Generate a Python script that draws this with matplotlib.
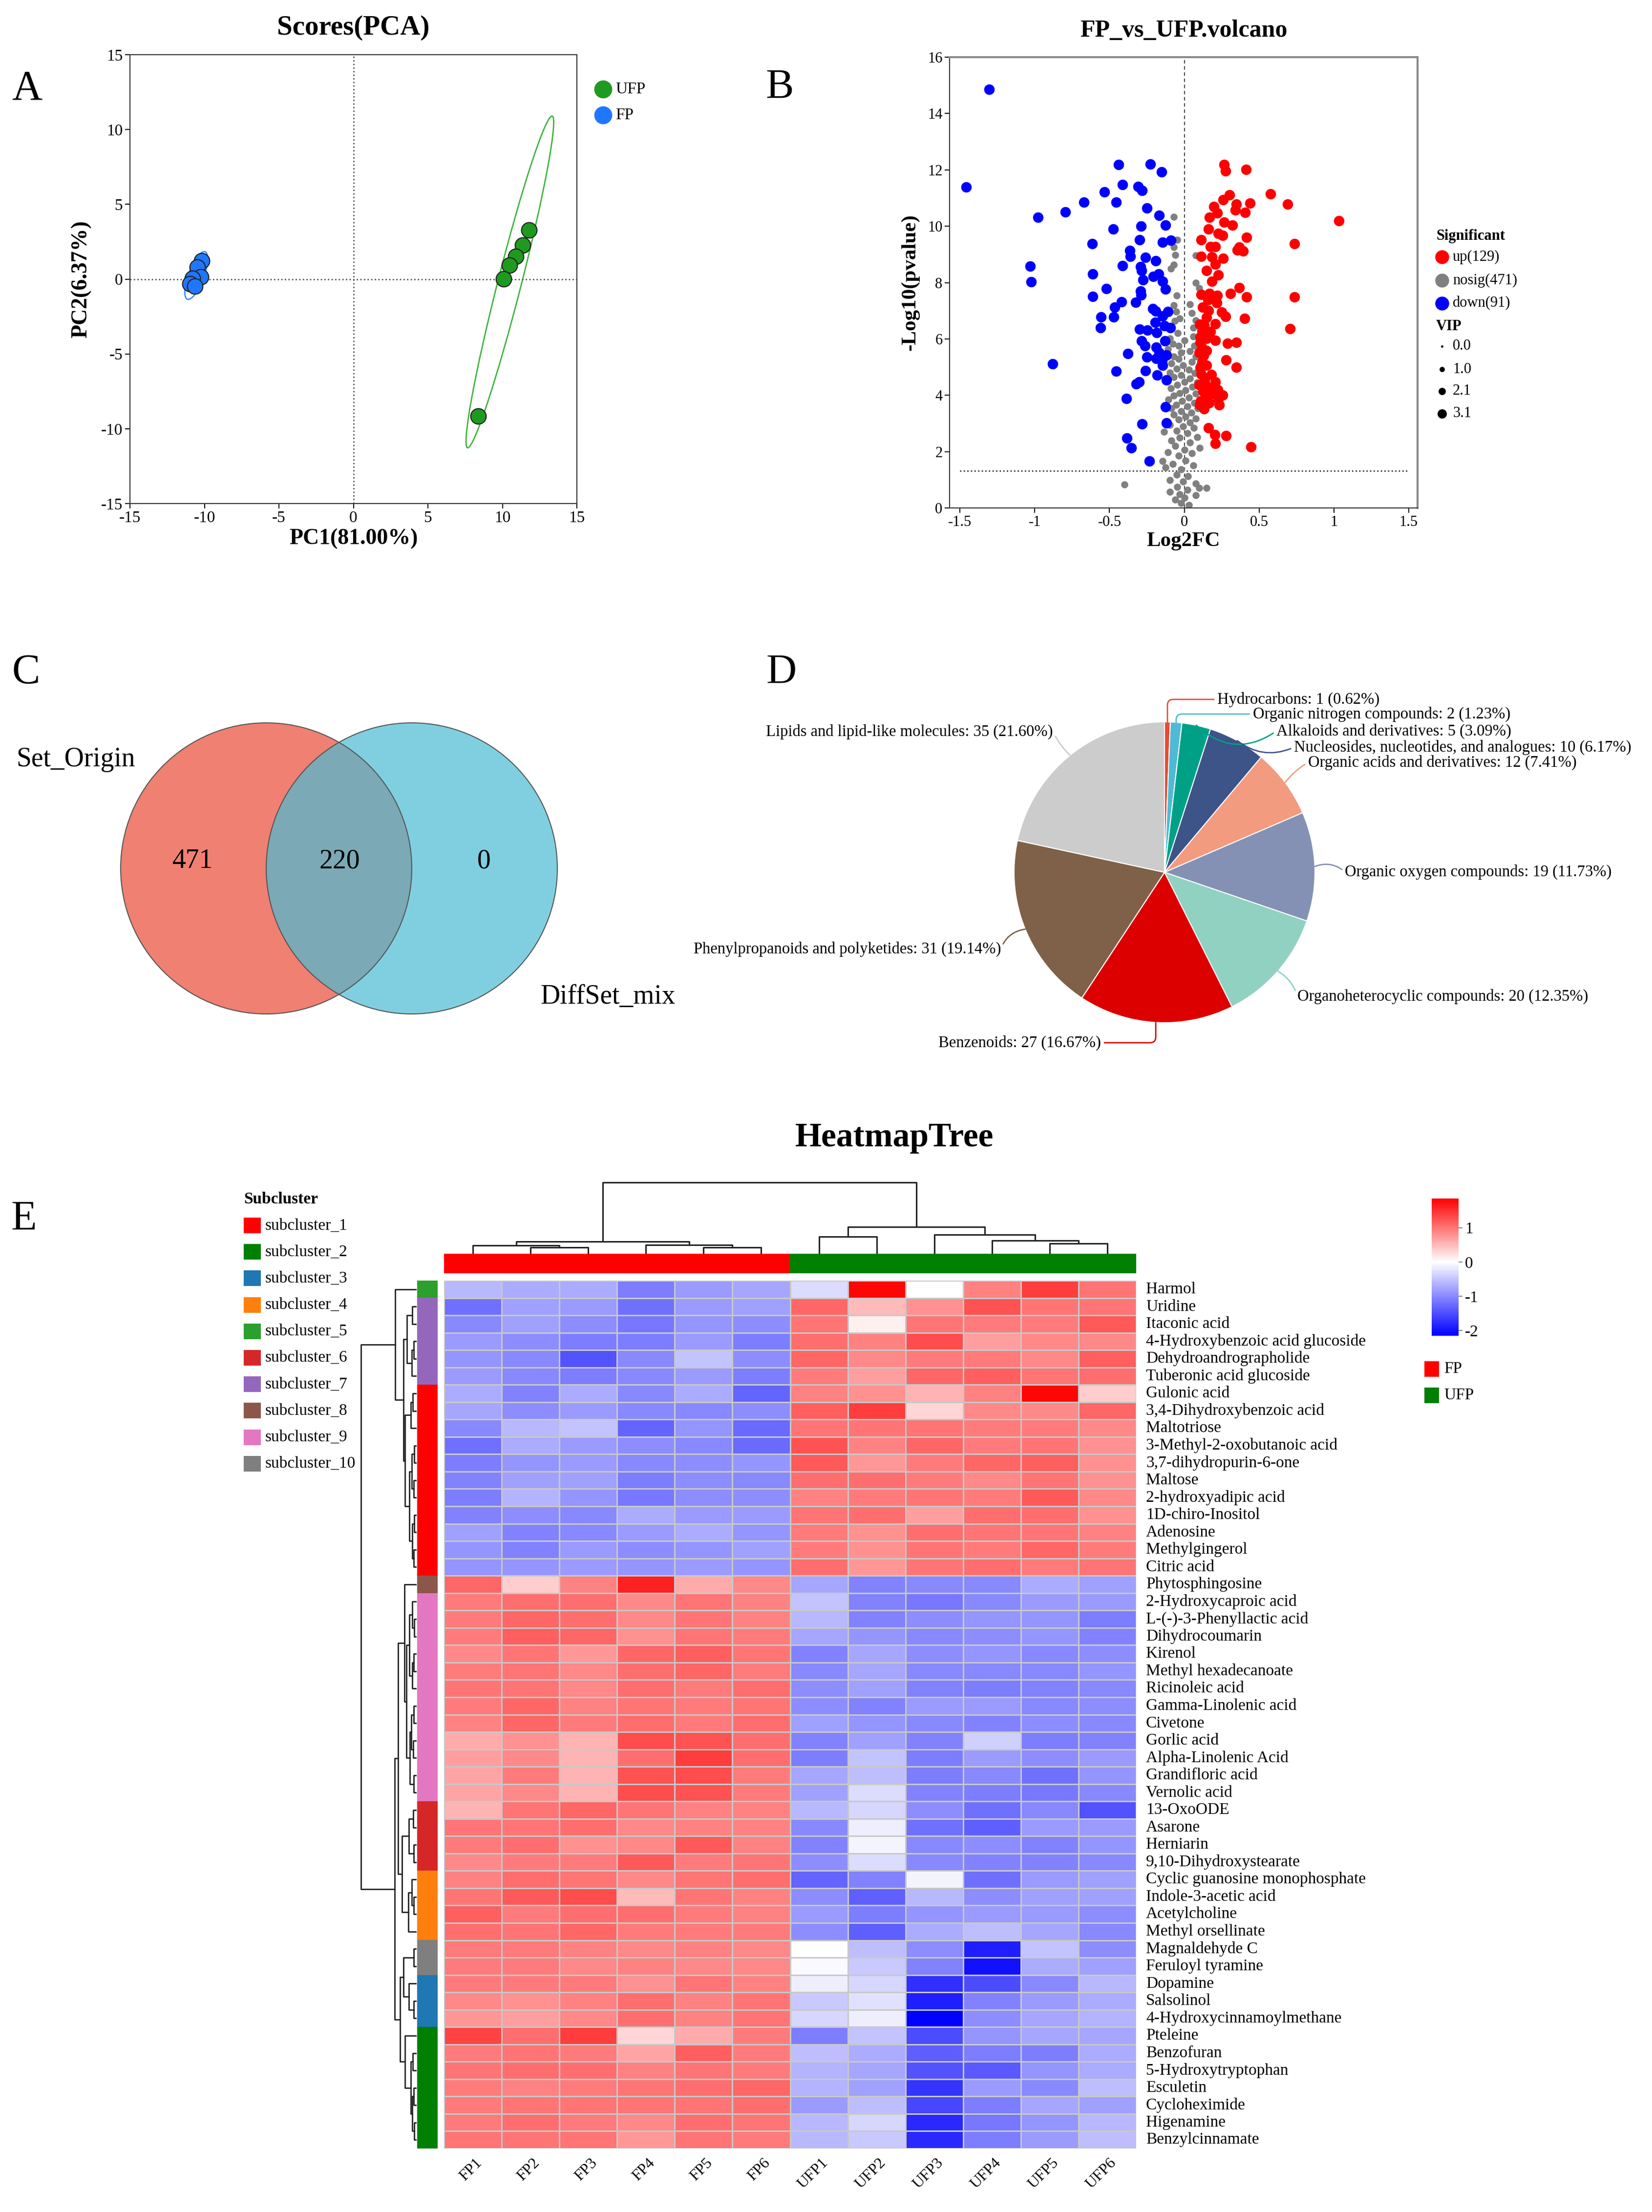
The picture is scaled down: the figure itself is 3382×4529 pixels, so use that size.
import numpy as np
import matplotlib
matplotlib.use('Agg')
import matplotlib.pyplot as plt
from matplotlib.patches import Circle, Ellipse, Rectangle
from matplotlib.colors import LinearSegmentedColormap, Normalize, to_rgb
from matplotlib.cm import ScalarMappable

plt.rcParams['font.family'] = 'serif'
plt.rcParams['font.serif'] = ['Liberation Serif', 'DejaVu Serif']
plt.rcParams['axes.unicode_minus'] = False

W, H = 3382, 4529

# ---------------- data ----------------
# A: PCA scores
fp_pc1 = [-10.17, -10.49, -10.23, -10.81, -10.96, -10.64]
fp_pc2 = [1.22, 0.81, 0.14, 0.05, -0.31, -0.46]
ufp_pc1 = [11.78, 11.37, 10.90, 10.49, 10.08, 8.38]
ufp_pc2 = [3.28, 2.28, 1.51, 0.93, 0.02, -9.15]

# B: volcano
down_x = [-1.306, -1.459, -0.439, -0.227, -0.153, -0.412, -0.31, -0.282, -0.533, -0.671,
          -0.455, -0.796, -0.98, -0.251, -0.169, -0.29, -0.125, -0.475, -0.09, -0.298,
          -0.145, -0.616, -0.365, -0.361, -0.259, -0.192, -1.031, -0.412, -0.294, -0.286,
          -0.173, -0.612, -0.208, -0.275, -0.145, -1.024, -0.522, -0.294, -0.125, -0.612,
          -0.29, -0.42, -0.325, -0.467, -0.212, -0.192, -0.11, -0.145, -0.557, -0.471,
          -0.196, -0.133, -0.561, -0.298, -0.247, -0.094, -0.184, -0.129, -0.286, -0.263,
          -0.188, -0.169, -0.376, -0.118, -0.251, -0.188, -0.149, -0.882, -0.145, -0.259,
          -0.455, -0.18, -0.118, -0.302, -0.322, -0.388, -0.125, -0.118, -0.282, -0.384,
          -0.353, -0.235]
down_y = [14.86, 11.39, 12.19, 12.2, 11.92, 11.48, 11.4, 11.26, 11.21, 10.85,
          10.85, 10.51, 10.32, 10.65, 10.39, 10.0, 10.04, 9.9, 9.5, 9.52,
          9.43, 9.38, 9.13, 8.93, 8.89, 8.78, 8.58, 8.59, 8.56, 8.42,
          8.31, 8.31, 8.22, 8.10, 8.05, 8.03, 7.79, 7.70, 7.76, 7.51,
          7.56, 7.32, 7.29, 7.12, 7.07, 6.98, 6.96, 6.81, 6.77, 6.77,
          6.59, 6.46, 6.4, 6.34, 6.31, 6.39, 6.23, 5.93, 5.93, 5.75,
          5.71, 5.51, 5.47, 5.42, 5.36, 5.31, 5.23, 5.11, 5.06, 4.87,
          4.86, 4.72, 4.55, 4.48, 4.41, 3.89, 3.58, 3.02, 2.99, 2.48,
          2.14, 1.67]
up_x = [0.267, 0.275, 0.412, 0.576, 0.69, 1.035, 0.302, 0.259, 0.349, 0.439,
        0.196, 0.341, 0.22, 0.408, 0.169, 0.267, 0.322, 0.161, 0.227, 0.255,
        0.416, 0.114, 0.737, 0.176, 0.208, 0.369, 0.353, 0.392, 0.114, 0.184,
        0.259, 0.208, 0.149, 0.227, 0.184, 0.369, 0.114, 0.169, 0.22, 0.31,
        0.416, 0.737, 0.157, 0.216, 0.122, 0.161, 0.251, 0.275, 0.149, 0.404,
        0.102, 0.133, 0.208, 0.706, 0.118, 0.176, 0.106, 0.149, 0.208, 0.106,
        0.29, 0.349, 0.118, 0.149, 0.098, 0.129, 0.278, 0.118, 0.149, 0.106,
        0.349, 0.114, 0.18, 0.137, 0.208, 0.098, 0.157, 0.224, 0.125, 0.184,
        0.255, 0.153, 0.227, 0.11, 0.165, 0.235, 0.102, 0.133, 0.161, 0.204,
        0.278, 0.208, 0.447]
up_y = [12.19, 11.96, 12.01, 11.14, 10.79, 10.19, 11.11, 10.94, 10.79, 10.81,
        10.69, 10.57, 10.47, 10.48, 10.32, 10.14, 10.04, 9.9, 9.75, 9.68,
        9.61, 9.52, 9.38, 9.27, 9.27, 9.26, 9.15, 9.11, 8.92, 8.91,
        8.85, 8.65, 8.42, 8.27, 8.04, 7.82, 7.58, 7.61, 7.54, 7.61,
        7.48, 7.48, 7.38, 7.28, 7.12, 7.0, 6.95, 6.79, 6.76, 6.72,
        6.51, 6.49, 6.53, 6.36, 6.27, 6.26, 6.06, 6.01, 5.95, 5.88,
        5.85, 5.88, 5.69, 5.59, 5.51, 5.41, 5.25, 5.19, 5.06, 4.97,
        4.99, 4.75, 4.73, 4.53, 4.48, 4.36, 4.29, 4.2, 4.15, 4.05,
        4.01, 3.97, 3.87, 3.80, 3.73, 3.65, 3.65, 3.52, 2.85, 2.6,
        2.57, 2.29, 2.16]
ns_x = [-0.071, -0.047, -0.071, -0.059, 0.078, -0.09, -0.071, 0.078, 0.098, -0.051,
        0.039, -0.071, -0.055, 0.051, -0.031, -0.063, 0.078, 0.059, -0.043, -0.098,
        0.0, 0.059, -0.078, -0.039, 0.067, -0.11, 0.039, -0.02, -0.071, 0.078,
        -0.039, 0.051, -0.086, -0.008, 0.098, -0.051, 0.031, -0.098, 0.071, -0.02,
        -0.071, 0.039, -0.118, 0.0, 0.086, -0.047, 0.055, -0.09, 0.008, -0.031,
        0.078, -0.071, 0.031, -0.106, -0.016, 0.067, -0.055, 0.02, -0.086, 0.09,
        -0.02, 0.047, -0.071, 0.008, 0.078, -0.039, 0.039, -0.098, -0.008, 0.063,
        -0.137, -0.051, 0.02, 0.086, -0.031, -0.086, 0.039, 0.102, -0.059, 0.0,
        -0.11, 0.051, -0.039, -0.145, 0.008, -0.078, 0.059, -0.125, -0.02, -0.051,
        0.024, -0.098, -0.008, 0.078, -0.4, -0.047, 0.149, 0.098, 0.02, -0.098,
        -0.031, 0.078, 0.0, -0.059, -0.02, 0.031]
ns_y = [10.34, 9.52, 9.26, 8.98, 8.96, 8.5, 8.63, 7.99, 7.8, 7.54,
        7.23, 7.19, 6.97, 6.91, 6.72, 6.64, 6.65, 6.4, 6.21, 6.02,
        5.95, 6.08, 5.83, 5.76, 5.76, 5.64, 5.57, 5.51, 5.38, 5.38,
        5.28, 5.19, 5.13, 5.06, 5.06, 4.94, 4.91, 4.81, 4.78, 4.71,
        4.64, 4.59, 4.52, 4.48, 4.45, 4.36, 4.3, 4.24, 4.17, 4.07,
        4.05, 3.98, 3.92, 3.85, 3.79, 3.73, 3.66, 3.6, 3.54, 3.54,
        3.43, 3.38, 3.31, 3.24, 3.18, 3.13, 3.03, 2.95, 2.9, 2.84,
        2.71, 2.74, 2.65, 2.52, 2.49, 2.39, 2.33, 2.14, 2.2, 2.07,
        1.98, 1.95, 1.86, 1.67, 1.69, 1.56, 1.5, 1.44, 1.37, 1.18,
        1.12, 0.99, 0.93, 0.87, 0.83, 0.74, 0.71, 0.71, 0.64, 0.57,
        0.48, 0.45, 0.36, 0.29, 0.17, 0.1]
p_cut = 1.31
sig_labels = ['up(129)', 'nosig(471)', 'down(91)']
vip_labels = ['0.0', '1.0', '2.1', '3.1']

# C: venn
venn_sets = ['Set_Origin', 'DiffSet_mix']
venn_counts = [471, 220, 0]

# D: pie of classes
pie_names = ['Hydrocarbons', 'Organic nitrogen compounds', 'Alkaloids and derivatives',
             'Nucleosides, nucleotides, and analogues', 'Organic acids and derivatives',
             'Organic oxygen compounds', 'Organoheterocyclic compounds', 'Benzenoids',
             'Phenylpropanoids and polyketides', 'Lipids and lipid-like molecules']
pie_counts = [1, 2, 5, 10, 12, 19, 20, 27, 31, 35]
pie_colors = ['#E64B35', '#4DBBD5', '#00A087', '#3C5488', '#F39B7F',
              '#8491B4', '#91D1C2', '#DC0000', '#7E6148', '#CCCCCC']

# E: heatmap
samples = ['FP1', 'FP2', 'FP3', 'FP4', 'FP5', 'FP6',
           'UFP1', 'UFP2', 'UFP3', 'UFP4', 'UFP5', 'UFP6']
metabolites = ['Harmol', 'Uridine', 'Itaconic acid', '4-Hydroxybenzoic acid glucoside',
               'Dehydroandrographolide', 'Tuberonic acid glucoside', 'Gulonic acid',
               '3,4-Dihydroxybenzoic acid', 'Maltotriose', '3-Methyl-2-oxobutanoic acid',
               '3,7-dihydropurin-6-one', 'Maltose', '2-hydroxyadipic acid', '1D-chiro-Inositol',
               'Adenosine', 'Methylgingerol', 'Citric acid', 'Phytosphingosine',
               '2-Hydroxycaproic acid', 'L-(-)-3-Phenyllactic acid', 'Dihydrocoumarin', 'Kirenol',
               'Methyl hexadecanoate', 'Ricinoleic acid', 'Gamma-Linolenic acid', 'Civetone',
               'Gorlic acid', 'Alpha-Linolenic Acid', 'Grandifloric acid', 'Vernolic acid',
               '13-OxoODE', 'Asarone', 'Herniarin', '9,10-Dihydroxystearate',
               'Cyclic guanosine monophosphate', 'Indole-3-acetic acid', 'Acetylcholine',
               'Methyl orsellinate', 'Magnaldehyde C', 'Feruloyl tyramine', 'Dopamine',
               'Salsolinol', '4-Hydroxycinnamoylmethane', 'Pteleine', 'Benzofuran',
               '5-Hydroxytryptophan', 'Esculetin', 'Cycloheximide', 'Higenamine', 'Benzylcinnamate']
hm_values = [
    [-0.6, -0.7, -0.7, -1.1, -0.85, -0.75, -0.3, 1.8, 0.0, 0.9, 1.4, 1.0],
    [-1.2, -0.8, -0.85, -1.2, -0.85, -0.8, 1.1, 0.5, 0.8, 1.25, 1.0, 1.0],
    [-1.0, -0.8, -0.95, -1.15, -0.9, -0.95, 1.0, 0.1, 1.0, 0.95, 0.95, 1.2],
    [-0.85, -0.95, -1.1, -1.1, -0.85, -1.1, 1.05, 0.9, 1.3, 0.7, 0.85, 0.85],
    [-0.9, -1.0, -1.45, -1.0, -0.5, -0.95, 1.1, 0.85, 0.95, 0.95, 0.85, 1.15],
    [-0.85, -1.0, -1.1, -1.0, -0.85, -1.1, 0.95, 0.7, 1.1, 1.15, 1.0, 1.05],
    [-0.7, -1.05, -0.7, -1.0, -0.7, -1.3, 0.9, 0.8, 0.55, 0.9, 1.8, 0.35],
    [-0.75, -0.95, -0.85, -1.0, -1.0, -0.95, 1.15, 1.4, 0.3, 0.85, 0.85, 1.1],
    [-1.0, -0.6, -0.5, -1.3, -0.9, -1.25, 1.0, 1.0, 1.0, 0.95, 0.95, 0.85],
    [-1.2, -0.7, -0.85, -0.95, -1.0, -1.25, 1.25, 0.9, 1.1, 0.95, 1.0, 0.8],
    [-1.1, -0.9, -0.85, -1.0, -0.95, -0.9, 1.2, 0.75, 0.95, 1.1, 1.15, 0.8],
    [-1.05, -0.8, -0.8, -1.1, -0.95, -1.0, 1.05, 1.05, 0.95, 0.85, 1.0, 0.8],
    [-1.1, -0.65, -0.9, -1.15, -0.95, -0.95, 0.9, 0.95, 1.0, 0.95, 1.2, 0.85],
    [-1.05, -0.95, -1.0, -0.7, -0.85, -0.85, 1.0, 1.05, 0.7, 1.05, 1.05, 0.8],
    [-0.8, -1.05, -1.0, -0.85, -0.7, -0.9, 0.95, 0.8, 1.05, 1.0, 1.0, 0.9],
    [-0.9, -1.05, -0.85, -0.95, -0.9, -0.8, 0.95, 0.8, 1.0, 0.95, 1.1, 0.95],
    [-0.9, -0.9, -0.85, -0.9, -0.85, -0.9, 1.05, 0.75, 1.0, 1.05, 0.95, 1.0],
    [1.1, 0.35, 0.9, 1.6, 0.6, 0.85, -0.75, -1.05, -1.0, -1.0, -0.7, -0.8],
    [0.95, 1.05, 1.05, 0.85, 1.0, 0.9, -0.5, -1.05, -1.15, -1.0, -0.85, -0.85],
    [0.95, 1.1, 1.05, 0.85, 1.0, 0.9, -0.6, -1.05, -0.95, -0.9, -0.9, -1.1],
    [0.95, 1.15, 1.1, 0.8, 1.0, 0.95, -0.75, -0.9, -1.0, -0.95, -0.9, -1.05],
    [0.85, 1.0, 0.75, 1.1, 1.15, 1.0, -1.05, -0.75, -0.95, -0.9, -1.0, -0.95],
    [0.95, 1.0, 0.85, 1.05, 1.1, 0.95, -1.0, -0.75, -1.0, -1.0, -1.0, -0.9],
    [1.0, 1.0, 0.85, 1.05, 0.95, 1.05, -0.95, -0.8, -1.05, -1.1, -1.05, -1.0],
    [0.95, 1.1, 0.9, 1.0, 0.95, 1.0, -0.95, -1.05, -0.85, -0.85, -1.0, -0.95],
    [0.9, 1.1, 0.95, 1.05, 0.95, 1.05, -0.8, -0.9, -1.0, -1.05, -0.95, -1.0],
    [0.6, 0.8, 0.55, 1.3, 1.25, 1.05, -1.05, -0.8, -1.05, -0.4, -1.1, -1.05],
    [0.7, 0.85, 0.55, 1.05, 1.4, 1.05, -1.1, -0.5, -1.1, -0.85, -0.95, -0.85],
    [0.65, 0.95, 0.55, 1.25, 1.3, 0.95, -0.75, -0.55, -1.1, -1.0, -1.2, -0.9],
    [0.65, 0.85, 0.55, 1.3, 1.25, 0.95, -0.8, -0.3, -1.05, -1.1, -1.15, -1.0],
    [0.55, 1.0, 1.1, 1.0, 0.9, 0.9, -0.6, -0.35, -0.95, -1.2, -1.0, -1.45],
    [1.0, 1.0, 1.05, 0.85, 0.9, 0.9, -1.0, -0.15, -1.2, -1.35, -0.85, -0.85],
    [0.95, 1.05, 0.8, 0.85, 1.2, 0.9, -1.05, -0.1, -1.0, -0.95, -1.05, -0.9],
    [0.85, 0.95, 0.95, 1.2, 0.95, 1.0, -0.95, -0.3, -1.0, -1.05, -1.05, -1.0],
    [0.9, 1.05, 1.0, 0.85, 1.0, 1.05, -1.3, -1.05, -0.1, -1.2, -0.85, -0.8],
    [1.0, 1.2, 1.3, 0.5, 1.0, 0.9, -0.95, -1.35, -0.6, -0.95, -0.8, -0.8],
    [1.15, 0.95, 1.05, 1.05, 0.95, 0.9, -0.85, -1.1, -0.9, -0.85, -0.85, -0.95],
    [1.05, 1.0, 1.1, 0.95, 0.95, 0.95, -0.95, -1.35, -0.7, -0.55, -0.75, -1.0],
    [0.95, 0.95, 0.9, 0.85, 0.9, 0.85, 0.0, -0.55, -0.95, -1.9, -0.5, -0.95],
    [0.95, 0.95, 0.85, 0.9, 0.85, 0.85, -0.05, -0.45, -1.05, -2.0, -0.7, -0.8],
    [0.95, 0.95, 0.95, 0.8, 1.0, 0.9, -0.15, -0.35, -1.75, -1.5, -1.0, -0.6],
    [0.85, 0.8, 0.9, 1.05, 0.9, 1.0, -0.45, -0.25, -1.9, -1.05, -0.85, -0.7],
    [0.75, 0.7, 0.85, 1.05, 0.9, 1.0, -0.35, -0.15, -2.15, -0.95, -0.75, -0.65],
    [1.35, 1.05, 1.4, 0.3, 0.6, 0.95, -1.1, -0.5, -1.5, -0.9, -0.75, -0.75],
    [0.95, 1.0, 0.95, 0.65, 1.15, 0.95, -0.55, -0.7, -1.35, -1.1, -1.1, -0.7],
    [1.0, 1.05, 1.05, 0.9, 1.0, 0.95, -0.65, -0.75, -1.45, -1.4, -0.9, -0.7],
    [0.95, 0.9, 0.95, 1.0, 1.05, 1.1, -0.65, -0.8, -1.7, -0.85, -1.0, -0.55],
    [0.95, 1.0, 1.0, 1.0, 1.0, 1.05, -0.85, -0.55, -1.55, -1.1, -0.75, -0.8],
    [0.95, 1.05, 0.95, 0.85, 1.05, 1.0, -0.6, -0.35, -1.8, -1.15, -0.9, -0.6],
    [1.0, 1.0, 1.0, 0.75, 1.0, 0.95, -0.6, -0.45, -1.8, -1.1, -0.85, -0.55],
]
subcluster_names = ['subcluster_%d' % i for i in range(1, 11)]
subcluster_colors = ['#FF0000', '#008000', '#1F77B4', '#FF7F0E', '#2CA02C',
                     '#D62728', '#9467BD', '#8C564B', '#E377C2', '#7F7F7F']
# subcluster of consecutive row blocks (top to bottom) and their sizes
row_blocks = [5, 7, 1, 8, 9, 6, 4, 10, 3, 2]
row_block_sizes = [1, 5, 11, 1, 12, 4, 4, 2, 3, 7]
group_names = ['FP', 'UFP']
group_colors = ['#FF0000', '#008000']

# dendrograms: (left, right, height) ; leaves are row/column indices
col_tree = (((0, (1, 2, 13), 17), (3, (4, 5, 13), 18), 25),
            ((6, 7, 35), (8, (9, (10, 11, 21), 27), 39), 55), 146)
pink = (((18, (19, 20, 5), 9), ((21, 22, 6), 23, 9), 15),
        (((24, 25, 6), (26, 27, 7), 11), (28, 29, 6), 14), 21)
row_tree = (
    (0, (((1, 2, 9), ((3, 4, 6), 5, 10), 20),
         (((6, 7, 8), 8, 12), (((9, 10, 5), (11, 12, 6), 10), ((13, 14, 5), (15, 16, 6), 9), 15), 24),
         27), 44),
    (((17, pink, 25), (((30, 31, 7), (32, 33, 6), 16), ((34, (35, 36, 6), 10), 37, 17), 30), 38),
     (((38, 39, 6), (40, (41, 42, 6), 16), 27),
      (43, ((44, 45, 8), ((46, 47, 6), (48, 49, 5), 9), 12), 24), 34), 45),
    114)


def box(x0, y0, x1, y1):
    return [x0 / W, 1 - y1 / H, (x1 - x0) / W, (y1 - y0) / H]


fig = plt.figure(figsize=(W / 100, H / 100), dpi=100)
ov = fig.add_axes([0, 0, 1, 1])
ov.set_xlim(0, W)
ov.set_ylim(H, 0)
ov.axis('off')

for letter, (lx, ly) in zip('ABCDE', [(55, 183), (1596, 180), (53, 1378), (1600, 1378), (49, 2497)]):
    ov.text(lx, ly, letter, fontsize=62, ha='center', va='center')

# ---------------- A: PCA ----------------
axA = fig.add_axes(box(266, 112, 1181, 1031))


def conf_ellipse(ax, x, y, color):
    cov = np.cov(x, y)
    vals, vecs = np.linalg.eigh(cov)
    order = vals.argsort()[::-1]
    vals, vecs = vals[order], vecs[:, order]
    angle = np.degrees(np.arctan2(vecs[1, 0], vecs[0, 0]))
    w, h = 2 * np.sqrt(5.991 * vals)
    ax.add_patch(Ellipse((np.mean(x), np.mean(y)), w, h, angle=angle,
                         fill=False, ec=color, lw=2))


axA.axvline(0, color='#555555', ls=':', lw=2)
axA.axhline(0, color='#555555', ls=':', lw=2)
conf_ellipse(axA, ufp_pc1, ufp_pc2, '#3CB43C')
conf_ellipse(axA, fp_pc1, fp_pc2, '#3C8CFF')
axA.scatter(ufp_pc1, ufp_pc2, s=520, c='#1E9B1E', edgecolors='#222222', linewidths=1.6, zorder=3)
axA.scatter(fp_pc1, fp_pc2, s=520, c='#1F77FF', edgecolors='#222222', linewidths=1.6, zorder=3)
axA.set_xlim(-15, 15)
axA.set_ylim(-15, 15)
axA.set_xticks(range(-15, 16, 5))
axA.set_yticks(range(-15, 16, 5))
axA.tick_params(labelsize=24, length=7, width=1.5, direction='out')
for sp in axA.spines.values():
    sp.set_linewidth(1.5)
    sp.set_color('#333333')
axA.set_title('Scores(PCA)', fontsize=41, fontweight='bold', pad=30)
axA.set_xlabel('PC1(81.00%)', fontsize=33, fontweight='bold', labelpad=4)
axA.set_ylabel('PC2(6.37%)', fontsize=33, fontweight='bold', labelpad=14)
ov.scatter([1235, 1235], [183, 236], s=650, c=['#1E9B1E', '#1F77FF'])
ov.text(1260, 183, 'UFP', fontsize=24, va='center')
ov.text(1260, 236, 'FP', fontsize=24, va='center')

# ---------------- B: volcano ----------------
axB = fig.add_axes(box(1944, 117, 2902, 1040))
axB.axvline(0, color='#333333', ls=(0, (4, 3)), lw=1.3, zorder=1)
axB.plot([-1.5, 1.5], [p_cut, p_cut], color='#333333', ls=':', lw=2, zorder=1)
axB.scatter(ns_x, ns_y, s=110, c='#808080', linewidths=0, zorder=2)
axB.scatter(down_x, down_y, s=240, c='#0000FF', linewidths=0, zorder=3)
axB.scatter(up_x, up_y, s=240, c='#FF0000', linewidths=0, zorder=3)
axB.set_xlim(-1.57, 1.56)
axB.set_ylim(0, 16)
axB.set_xticks([-1.5, -1, -0.5, 0, 0.5, 1, 1.5])
axB.set_xticklabels(['-1.5', '-1', '-0.5', '0', '0.5', '1', '1.5'])
axB.set_yticks(range(0, 17, 2))
axB.tick_params(labelsize=22, length=7, width=1.5, direction='out')
for side in ['left', 'bottom']:
    axB.spines[side].set_linewidth(1.5)
    axB.spines[side].set_color('#333333')
for side in ['top', 'right']:
    axB.spines[side].set_linewidth(3)
    axB.spines[side].set_color('#8a8a8a')
axB.set_title('FP_vs_UFP.volcano', fontsize=36, fontweight='bold', pad=30)
axB.set_xlabel('Log2FC', fontsize=31, fontweight='bold', labelpad=4)
axB.set_ylabel('-Log10(pvalue)', fontsize=31, fontweight='bold', labelpad=12)

ov.text(2940, 484, 'Significant', fontsize=22, fontweight='bold', va='center')
for yy, col, lab in zip([526, 574, 621], ['#FF0000', '#808080', '#0000FF'], sig_labels):
    ov.scatter([2952], [yy], s=420, c=col, linewidths=0)
    ov.text(2974, yy, lab, fontsize=22, va='center')
ov.text(2940, 669, 'VIP', fontsize=22, fontweight='bold', va='center')
for yy, ss, lab in zip([709, 756, 801, 847], [12, 60, 115, 190], vip_labels):
    ov.scatter([2952], [yy], s=ss, c='black', linewidths=0)
    ov.text(2974, yy, lab, fontsize=22, va='center')

# ---------------- C: venn ----------------
lc, rc, rad = (545, 1778), (843, 1778), 298
ov.add_patch(Circle(lc, rad, fc='#EF8072', ec='none'))
ov.add_patch(Circle(rc, rad, fc='#80CFE1', ec='none'))
lens = Circle(lc, rad, fc='#7BA9B5', ec='none')
ov.add_patch(lens)
lens.set_clip_path(Circle(rc, rad, transform=ov.transData))
ov.add_patch(Circle(lc, rad, fill=False, ec='#555555', lw=1.5))
ov.add_patch(Circle(rc, rad, fill=False, ec='#555555', lw=1.5))
ov.text(155, 1555, venn_sets[0], fontsize=40, ha='center', va='center')
ov.text(1245, 2041, venn_sets[1], fontsize=40, ha='center', va='center')
for xx, n in zip([394, 695, 991], venn_counts):
    ov.text(xx, 1763, str(n), fontsize=40, ha='center', va='center')

# ---------------- D: pie ----------------
pcx, pcy, pr = 2384, 1786, 308
axD = fig.add_axes(box(pcx - pr, pcy - pr, pcx + pr, pcy + pr))
axD.pie(pie_counts, colors=pie_colors, startangle=90, counterclock=False, radius=1,
        wedgeprops=dict(edgecolor='white', linewidth=1.5))
axD.set_xlim(-1, 1)
axD.set_ylim(-1, 1)
axD.set_aspect('equal')
axD.axis('off')
hook = 'angle,angleA=0,angleB=90,rad=12'
label_pos = [(2492, 1432, 'left', hook), (2565, 1462, 'left', hook),
             (2613, 1497, 'left', 'arc3,rad=-0.4'), (2649, 1530, 'left', 'arc3,rad=-0.3'),
             (2678, 1561, 'left', 'arc3,rad=0.1'), (2753, 1785, 'left', 'arc3,rad=0.3'),
             (2656, 2040, 'left', 'arc3,rad=0.2'), (2254, 2135, 'right', hook),
             (2049, 1943, 'right', 'arc3,rad=-0.3'), (2156, 1498, 'right', 'arc3,rad=0.1')]
total = sum(pie_counts)
cum = 0
for name, cnt, col, (tx, ty, ha, cs) in zip(pie_names, pie_counts, pie_colors, label_pos):
    mid = np.radians(90 - 360 * (cum + cnt / 2) / total)
    cum += cnt
    txt = '%s: %d (%.2f%%)' % (name, cnt, 100 * cnt / total)
    dx = (tx - pcx) / pr
    dy = -(ty - pcy) / pr
    axD.annotate(txt, xy=(np.cos(mid), np.sin(mid)), xytext=(dx, dy), fontsize=23.5,
                 ha=ha, va='center', annotation_clip=False,
                 arrowprops=dict(arrowstyle='-', color=col, lw=2, shrinkA=3, shrinkB=0,
                                 relpos=(0, 0.5) if ha == 'left' else (1, 0.5),
                                 connectionstyle=cs))

# ---------------- E: heatmap ----------------
hx0, hx1, hy0, hy1 = 909, 2326, 2622, 4399
nr, nc = len(metabolites), len(samples)
cmap = LinearSegmentedColormap.from_list(
    'bwr2', [(0.0, '#0000FF'), (2.15 / 4.0, '#FFFFFF'), (1.0, '#FF0000')])
norm = Normalize(vmin=-2.15, vmax=1.85)

axH = fig.add_axes(box(hx0, hy0, hx1, hy1))
axH.pcolormesh(np.arange(nc + 1), np.arange(nr + 1), np.array(hm_values), cmap=cmap, norm=norm,
               edgecolors='#C8C8C8', linewidth=2)
axH.set_xlim(0, nc)
axH.set_ylim(nr, 0)
axH.axis('off')
for i, name in enumerate(metabolites):
    axH.text(nc + 0.17, i + 0.5, name, fontsize=24, ha='left', va='center')
for j, s in enumerate(samples):
    axH.text(j + 0.62, nr + 0.7, s, fontsize=23, rotation=45, ha='right', va='center',
             rotation_mode='anchor')

# row side colors
row_cols = []
for b, n in zip(row_blocks, row_block_sizes):
    row_cols += [to_rgb(subcluster_colors[b - 1])] * n
axS = fig.add_axes(box(854, hy0, 895, hy1))
axS.imshow(np.array(row_cols)[:, None, :], aspect='auto', extent=(0, 1, nr, 0))
axS.set_ylim(nr, 0)
axS.axis('off')

# column group colors
col_cols = [to_rgb(group_colors[0])] * 6 + [to_rgb(group_colors[1])] * 6
axG = fig.add_axes(box(hx0, 2567, hx1, 2607))
axG.imshow(np.array(col_cols)[None, :, :], aspect='auto', extent=(0, nc, 1, 0))
axG.axis('off')


def draw_tree(ax, node, orient):
    if isinstance(node, int):
        return node + 0.5, 0
    left, right, h = node
    pl, hl = draw_tree(ax, left, orient)
    pr_, hr = draw_tree(ax, right, orient)
    if orient == 'row':
        ax.plot([hl, h, h, hr], [pl, pl, pr_, pr_], color='#222222', lw=2)
    else:
        ax.plot([pl, pl, pr_, pr_], [hl, h, h, hr], color='#222222', lw=2.2)
    return (pl + pr_) / 2, h


axCD = fig.add_axes(box(hx0, 2415, hx1, 2567))
draw_tree(axCD, col_tree, 'col')
axCD.set_xlim(0, nc)
axCD.set_ylim(0, 152)
axCD.axis('off')

axRD = fig.add_axes(box(735, hy0, 853, hy1))
draw_tree(axRD, row_tree, 'row')
axRD.set_xlim(118, 0)
axRD.set_ylim(nr, 0)
axRD.axis('off')

ov.text(1831, 2330, 'HeatmapTree', fontsize=50, fontweight='bold', ha='center', va='center')

# subcluster legend
ov.text(499, 2455, 'Subcluster', fontsize=24, fontweight='bold', va='center')
for k, (nm, col) in enumerate(zip(subcluster_names, subcluster_colors)):
    yy = 2509 + 54.2 * k
    ov.add_patch(Rectangle((499, yy - 16), 35, 32, fc=col, ec='none'))
    ov.text(543, yy, nm, fontsize=24, va='center')

# colorbar
cax = fig.add_axes(box(2931, 2454, 2986, 2735))
cb = fig.colorbar(ScalarMappable(norm=norm, cmap=cmap), cax=cax)
cb.outline.set_visible(False)
cb.set_ticks([1, 0, -1, -2])
cb.set_ticklabels(['1', '0', '-1', '-2'])
cax.tick_params(labelsize=24, length=6, width=1.5, color='#888888')

# group legend
for k, (nm, col) in enumerate(zip(group_names, group_colors)):
    yy = 2803 + 54 * k
    ov.add_patch(Rectangle((2916, yy - 16), 30, 32, fc=col, ec='none'))
    ov.text(2956, yy, nm, fontsize=24, va='center')

fig.savefig('out.png', dpi=100)
